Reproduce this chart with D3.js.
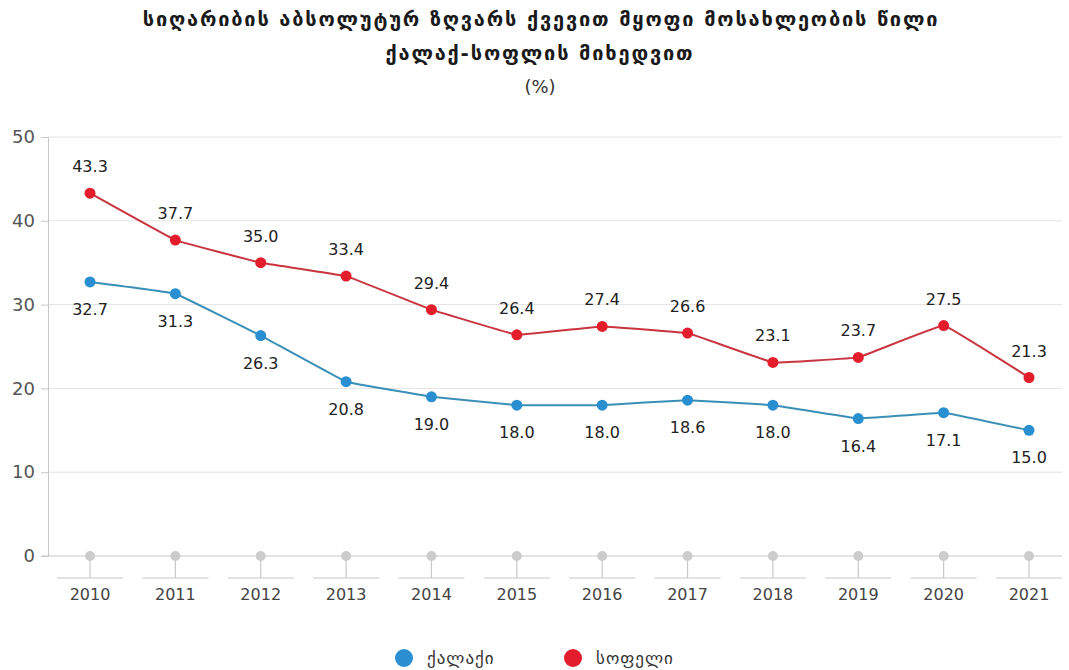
<!DOCTYPE html>
<html>
<head>
<meta charset="utf-8">
<script src="https://cdn.jsdelivr.net/npm/d3@7"></script>
<style>
  html, body { margin: 0; padding: 0; background: #fff; }
  svg { display: block; }
</style>
</head>
<body>
<svg id="chart" width="1069" height="670"></svg>
<script>
// Share of population below the absolute poverty line, urban vs rural (%)
const years = ["2010","2011","2012","2013","2014","2015","2016","2017","2018","2019","2020","2021"];
const urban = [32.7, 31.3, 26.3, 20.8, 19.0, 18.0, 18.0, 18.6, 18.0, 16.4, 17.1, 15.0];
const rural = [43.3, 37.7, 35.0, 33.4, 29.4, 26.4, 27.4, 26.6, 23.1, 23.7, 27.5, 21.3];
const yTicks = [0, 10, 20, 30, 40, 50];
const titleLines = [
  "სიღარიბის აბსოლუტურ ზღვარს ქვევით მყოფი მოსახლეობის წილი",
  "ქალაქ-სოფლის მიხედვით",
  "(%)"
];
const seriesNames = ["ქალაქი", "სოფელი"];

const svg = d3.select("#chart");
const font = "'DejaVu Sans', 'Noto Sans', sans-serif";

const x = d3.scalePoint().domain(years).range([90, 1029]);
const y = d3.scaleLinear().domain([0, 50]).range([556, 137]);

// Title
const title = svg.append("g").attr("font-family", font).attr("fill", "#1a1a1a").attr("text-anchor", "middle");
title.append("text").attr("x", 541).attr("y", 26).attr("font-size", 20).attr("font-weight", "bold")
  .attr("letter-spacing", 1.8).text(titleLines[0]);
title.append("text").attr("x", 540).attr("y", 60).attr("font-size", 20).attr("font-weight", "bold")
  .attr("letter-spacing", 1.8).text(titleLines[1]);
title.append("text").attr("x", 540).attr("y", 93).attr("font-size", 18).attr("fill", "#333").text(titleLines[2]);

// Grid lines
svg.append("g").selectAll("line").data(yTicks.filter(d => d > 0)).join("line")
  .attr("x1", 48).attr("x2", 1062)
  .attr("y1", d => y(d)).attr("y2", d => y(d))
  .attr("stroke", "#e3e3e3").attr("stroke-width", 1);

// Y axis
const yAxis = svg.append("g").attr("transform", "translate(48,0)")
  .call(d3.axisLeft(y).tickValues(yTicks).tickSize(7).tickPadding(6));
yAxis.select(".domain").attr("stroke", "#c8c8c8");
yAxis.selectAll(".tick line").attr("stroke", "#c8c8c8");
yAxis.selectAll(".tick text").attr("font-family", font).attr("font-size", 18).attr("fill", "#555");

// X baseline at zero
svg.append("line").attr("x1", 42).attr("x2", 1062).attr("y1", y(0)).attr("y2", y(0))
  .attr("stroke", "#c8c8c8").attr("stroke-width", 1.2);

// Category ticks: stub, underline, gray marker, year label
const xt = svg.append("g").selectAll("g").data(years).join("g")
  .attr("transform", d => `translate(${x(d)},0)`);
xt.append("line").attr("x1", 0).attr("x2", 0).attr("y1", y(0)).attr("y2", 578)
  .attr("stroke", "#c8c8c8").attr("stroke-width", 1.2);
xt.append("line").attr("x1", -33).attr("x2", 33).attr("y1", 578).attr("y2", 578)
  .attr("stroke", "#c8c8c8").attr("stroke-width", 1.2);
xt.append("circle").attr("cx", 0).attr("cy", y(0)).attr("r", 5).attr("fill", "#cccccc");
xt.append("text").attr("y", 600).attr("text-anchor", "middle")
  .attr("font-family", font).attr("font-size", 16).attr("fill", "#444").text(d => d);

// Series
const series = [
  { values: urban, line: "#3a8fb7", dot: "#2a8fd0", dy: 27, name: seriesNames[0] },
  { values: rural, line: "#c9343f", dot: "#e31d2b", dy: -21, name: seriesNames[1] }
];
const lineGen = d3.line().x((d, i) => x(years[i])).y(d => y(d)).curve(d3.curveCardinal.tension(0.85));

series.forEach(s => {
  const g = svg.append("g");
  g.append("path").datum(s.values).attr("d", lineGen)
    .attr("fill", "none").attr("stroke", s.line).attr("stroke-width", 2);
  g.selectAll("circle").data(s.values).join("circle")
    .attr("cx", (d, i) => x(years[i])).attr("cy", d => y(d)).attr("r", 5.5).attr("fill", s.dot);
  g.selectAll("text").data(s.values).join("text")
    .attr("x", (d, i) => x(years[i])).attr("y", d => y(d) + s.dy + (s.dy > 0 ? 6 : 0))
    .attr("text-anchor", "middle").attr("font-family", font).attr("font-size", 16).attr("fill", "#222")
    .text(d => d.toFixed(1));
});

// Legend
const legend = svg.append("g").attr("font-family", font).attr("font-size", 17).attr("fill", "#333");
const legendPos = [404, 573];
series.forEach((s, i) => {
  legend.append("circle").attr("cx", legendPos[i]).attr("cy", 658).attr("r", 9).attr("fill", s.dot);
  legend.append("text").attr("x", legendPos[i] + 23).attr("y", 664).attr("letter-spacing", 1).text(s.name);
});
</script>
</body>
</html>
